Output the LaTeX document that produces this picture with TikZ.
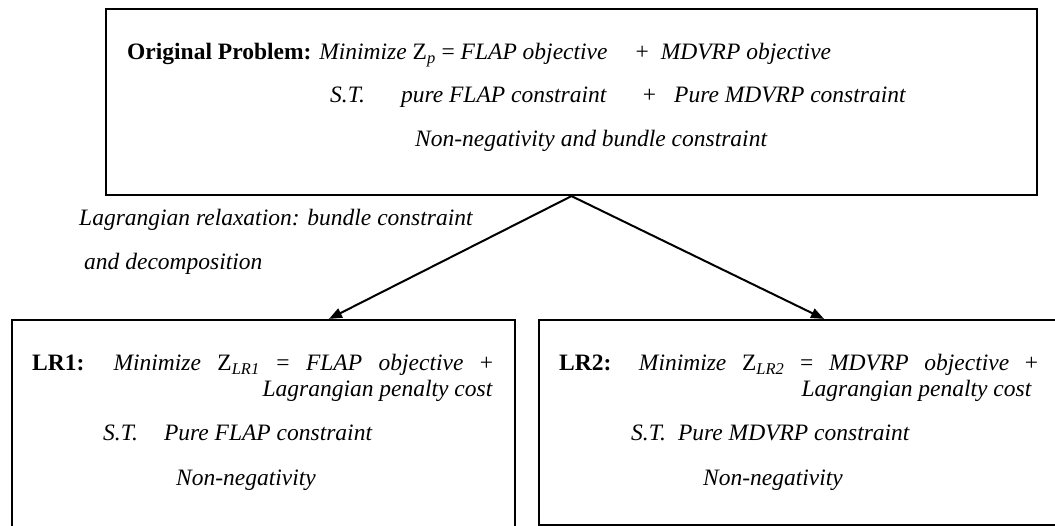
\documentclass[tikz,border=0pt]{standalone}
\usepackage{fontspec}
\setmainfont{Liberation Serif}
\usetikzlibrary{arrows.meta}
\begin{document}
\begin{tikzpicture}[x=1pt,y=-1pt,
  box/.style={draw, line width=2.2pt, inner sep=0pt},
  txt/.style={anchor=base west, inner sep=0pt, font=\fontsize{23.5}{28}\selectfont},
  link/.style={line width=2pt, -{Triangle[length=13pt,width=10pt]}}]
\useasboundingbox (0,0) rectangle (1055,526);
\begin{scope}
  \clip (0,0) rectangle (1055,526);
  % boxes
  \node[box, minimum width=931pt, minimum height=186pt] (orig) at (571.5,102) {};
  \node[box, minimum width=503pt, minimum height=240pt] (lr1) at (263.5,440) {};
  \node[box, minimum width=536pt, minimum height=205pt] (lr2) at (807,422.5) {};
\end{scope}

% original problem
\node[txt] (o1) at (127,60) {\textbf{Original Problem:} \textit{Minimize} Z\textsubscript{\textit{p}} = \textit{FLAP objective}\hspace{28pt}+\hspace{12pt}\textit{MDVRP objective}};
\node[txt] (o2) at (330,103) {\textit{S.T.}\hspace{36pt}\textit{pure FLAP constraint}\hspace{36pt}+\hspace{18pt}\textit{Pure MDVRP constraint}};
\node[txt] (o3) at (415,147) {\textit{Non-negativity and bundle constraint}};

% relaxation note
\node[txt] (n1) at (79,226) {\textit{Lagrangian relaxation: bundle constraint}};
\node[txt] (n2) at (84,270) {\textit{and decomposition}};

% LR1
\node[txt] (a1) at (32,371) {\makebox[461pt][s]{\textbf{LR1:} \textit{Minimize} Z\textsubscript{\textit{LR1}} = \textit{FLAP} \textit{objective} +}};
\node[txt, anchor=base east] (a2) at (493,397) {\textit{Lagrangian penalty cost}};
\node[txt] (a3) at (103,441) {\textit{S.T.}\hspace{26pt}\textit{Pure FLAP constraint}};
\node[txt] (a4) at (176,485) {\textit{Non-negativity}};

% LR2
\node[txt] (b1) at (559,371) {\makebox[479pt][s]{\textbf{LR2:} \textit{Minimize} Z\textsubscript{\textit{LR2}} = \textit{MDVRP} \textit{objective} +}};
\node[txt, anchor=base east] (b2) at (1032,397) {\textit{Lagrangian penalty cost}};
\node[txt] (b3) at (631,441) {\textit{S.T.}\hspace{12pt}\textit{Pure MDVRP constraint}};
\node[txt] (b4) at (703,485) {\textit{Non-negativity}};

% decomposition arrows
\draw[link] (orig.south) -- ([xshift=65.5pt]lr1.north);
\draw[link] (orig.south) -- ([xshift=17pt]lr2.north);
\end{tikzpicture}
\end{document}
